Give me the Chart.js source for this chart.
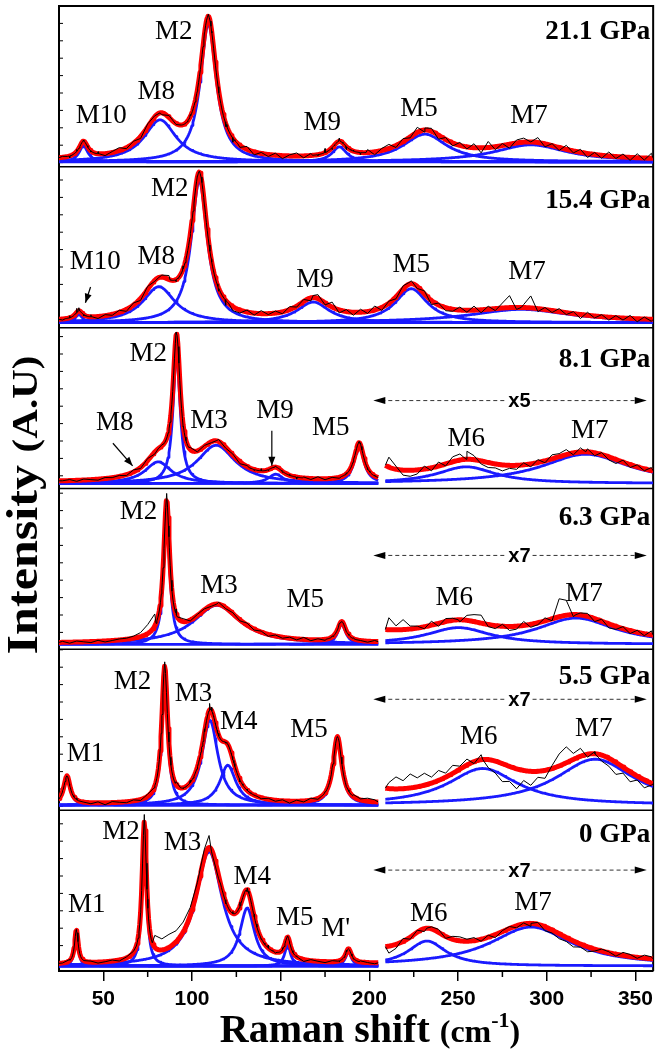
<!DOCTYPE html>
<html>
<head>
<meta charset="utf-8">
<script src="https://cdn.jsdelivr.net/npm/chart.js@4.4.1/dist/chart.umd.min.js"></script>
<style>
html,body{margin:0;padding:0;background:#fff;}
#wrap{width:659px;height:1051px;position:relative;}
canvas{display:block;}
</style>
</head>
<body>
<div id="wrap"><canvas id="c" width="659" height="1051"></canvas></div>
<script>
// ---------------- DATA ----------------
// x axis (Raman shift, cm-1)
const xRange = [25, 360];
const xTicks = [50, 100, 150, 200, 250, 300, 350];
const xMinorTicks = [75, 125, 175, 225, 275, 325];
const leftEnd = 205;     // end of the unscaled part in the lower panels
const rightStart = 209;  // start of the magnified part

const pressures = ['21.1 GPa', '15.4 GPa', '8.1 GPa', '6.3 GPa', '5.5 GPa', '0 GPa'];
const magnify = [1, 1, 5, 7, 7, 7];          // x5 / x7 factor of the right part
const baseLeft = [1, 0.5, 1, 0.5, 0.5, 0.5];  // fit baseline level (A.U.)

// fitted Lorentzian components: [mode, centre (cm-1), height (A.U.), HWHM (cm-1), measured top above fit]
const peaks211 = [['M10', 38.8, 16, 3, 1], ['M8', 82, 42, 11, 0], ['M2', 109.2, 138, 5.5, 2],
                  ['M9', 183.1, 15, 5, 2], ['M5', 231.3, 27.7, 15, 2], ['M7', 291, 17, 25, 0]];
const peaks154 = [['M10', 36.2, 8, 2.5, 3], ['M8', 81.3, 36, 11, 0], ['M2', 104.1, 142, 5.5, 1],
                  ['M9', 168.3, 20.7, 11, 2], ['M5', 223.6, 34, 11, 3], ['M7', 285.6, 13.3, 35, 0]];
const peaks81  = [['M8', 80.9, 21.7, 9, 0], ['M2', 91.3, 130, 2.4, 0], ['M3', 113.6, 38.3, 13, 0],
                  ['M9', 147.2, 9.3, 5, 1], ['M5', 194.2, 38, 3.3, 1]];
const mag81    = [['M6', 254.6, 16.7, 20, 0], ['M7', 322, 29.3, 30, 0]];          // heights as shown (x5)
const peaks63  = [['M2', 85.7, 135, 2, 6], ['M3', 114, 39, 16, 0], ['M5', 184.4, 20, 2.8, 0]];
const mag63    = [['M6', 250.2, 16.7, 22, 0], ['M7', 316.5, 26.3, 27, 0]];        // x7
const peaks55  = [['M1', 29.5, 28, 2.2, 0], ['M2', 84.6, 134, 2, 4], ['M3', 110.1, 85, 5.5, 6],
                  ['M4', 120.2, 40, 5.5, 0], ['M5', 182, 66.7, 3, 0]];
const mag55    = [['M6', 263.9, 36.7, 24, 0], ['M7', 327.2, 46, 27, 0]];          // x7
const peaks0   = [['M1', 34.8, 34, 1.2, 0], ['M2', 73.1, 137, 1.5, 7], ['M3', 109.6, 114.7, 9, 12],
                  ['M4', 131.1, 58, 5, 2], ['M5', 153.9, 21, 2, 1], ["M'", 188.2, 14, 2, 0]];
const mag0     = [['M6', 232.4, 25, 13, 0], ['M7', 291.1, 39, 28, 0]];            // x7

// measured spectrum minus fit, read every 4 cm-1 starting at 27 cm-1
const residStart = 27, residStep = 4;
const resid211 = [1,-2,2,0,-1,2,-2,1,3,-1, 2,-2,3,1,-2,2,-1,0,2,-1, 2,-1,0,-3,-4,-2,3,-3,1,-2,
  2,-3,1,3,-2,2,-1,4,-2,3, -3,1,-2,3,-3,2,4,-2,3,-1, 5,-2,3,-4,2,-3,3,-2,4,-5,
  6,-3,2,-4,3,4,-2,5,-3,2, -3,4,-2,3,-4,2,-3,4,-2,3, -3,4,-2,5];
const resid154 = [-1,2,4,-1,2,-2,1,-1,2,-2, 2,-2,3,-1,2,4,-2,3,-2,1, -2,2,-3,-5,-4,-3,2,-2,3,-1,
  2,-2,3,-1,2,-3,4,-2,5,-3, 2,-3,3,-2,4,-3,2,-2,3,2, -2,3,-4,2,-3,-2,3,-2,4,-3,
  3,-2,5,12,-2,3,12,-3,2,-2, 3,-2,2,-4,3,-2,2,-3,2,-2, 3,-3,2,-2];
const resid81 = [0,1,-1,1,0,-1,1,0,1,-1, 2,-1,2,-2,1,-2,3,-2,2,-1, 1,-1,2,-1,1,-2,1,-1,2,-1,
  1,-1,1,-2,1,-1,2,-1,1,-1, 1,-1,2,-1,1,0,10,3,-5,-6, -4,3,-3,4,-2,5,6,8,4,-3,
  -5,-4,-6,-3,-4,2,-3,3,-2,4, 3,5,-2,4,3,-3,2,-3,-4,2, -3,2,-2,3];
const resid63 = [1,-1,1,0,-1,1,-1,0,1,1, 2,4,9,12,-1,2,5,3,-1,1, 1,-1,2,-1,1,-1,2,-1,1,-2,
  1,-1,1,-1,2,-1,1,-1,1,2, -1,1,0,-1,1,0,12,4,10,3, 2,-2,4,-3,3,2,-2,5,7,8,
  -2,-3,2,-4,-3,4,-3,-2,3,-2, 18,15,-2,2,3,-3,2,-4,-3,2, -3,2,-2,4];
const resid55 = [1,-1,2,0,-1,1,-2,1,0,-1, 1,-1,2,-1,3,2,3,-1,2,-2, 4,3,2,-1,1,-2,1,0,-1,1,
  -1,1,-2,1,-1,2,-1,1,2,1, -1,2,1,3,2,0,6,12,8,14, 9,12,6,10,4,8,3,6,-2,5,
  -8,-12,-18,-15,-20,-10,-14,-6,-8,3, 12,16,6,8,-3,2,-6,-8,-12,-6, -10,-4,-8,-2];
const resid0 = [0,1,-1,0,1,-1,0,1,-1,1, 1,0,6,12,11,13,11,10,8,6, 8,-2,-3,-2,2,4,-2,2,-1,3,
  -1,2,-1,1,-2,1,0,-1,1,-1, 2,-1,1,0,-1,0,-7,-4,3,-2, 2,-3,2,3,-2,3,4,2,3,-2,
  2,-3,1,2,-2,1,-3,2,-4,-3, -5,-4,-6,-3,-5,-2,2,1,-2,3, 2,-1,3,2];

// ---------------- annotations (text placed in data coordinates) ----------------
const labels211 = [['M10',48.8,46],['M8',79.8,70],['M2',89.7,130],['M9',173.4,38.7],['M5',228,52.7],['M7',290,46]];
const labels154 = [['M10',45.5,61.3],['M8',79.8,65.7],['M2',87.5,134],['M9',169.4,43.3],['M5',223.6,58],['M7',288.9,50.7]];
const labels81  = [['M8',56.5,61],['M2',75.3,129.3],['M3',109.6,62.7],['M9',146.8,72.7],['M5',178.2,56],['M6',254.6,45],['M7',324.3,52.7]];
const labels63  = [['M2',69.8,132.3],['M3',115.2,58.3],['M5',163.9,44],['M6',247.9,46.3],['M7',321,50.7]];
const labels55  = [['M1',40,51.7],['M2',66.5,123.3],['M3',100.8,111.7],['M4',126.3,83.3],['M5',166,75],['M6',261.7,68.3],['M7',326.5,76]];
const labels0   = [['M1',40.6,60.7],['M2',59.9,134.7],['M3',94.6,123.3],['M4',134,89],['M5',157.9,48],["M'",181,36.7],['M6',233.5,52.3],['M7',292.2,63.3]];
const pressureY = [130, 122, 124, 126, 128, 131];
const magArrowY = [null, null, 83, 89, 106, 96];
const magArrowX = [202.2, 284.6, 356.4];   // left tip, text centre, right tip
const pointerArrows = [[1, 42.8, 35.7, 39.9, 20], [2, 55.4, 40.3, 66.5, 17.7], [2, 145, 52.7, 145, 17.7]];

// ---------------- build ----------------
const panels = [
  {main: peaks211, mag: [], resid: resid211, labels: labels211},
  {main: peaks154, mag: [], resid: resid154, labels: labels154},
  {main: peaks81, mag: mag81, resid: resid81, labels: labels81},
  {main: peaks63, mag: mag63, resid: resid63, labels: labels63},
  {main: peaks55, mag: mag55, resid: resid55, labels: labels55},
  {main: peaks0, mag: mag0, resid: resid0, labels: labels0}
];
const BLUE = '#1a1aff', RED = '#ff0000', BLACK = '#000000';
const lor = (x, pk) => pk[2] / (1 + ((x - pk[1]) / pk[3]) ** 2);
const sum = (list, x) => list.reduce((s, pk) => s + lor(x, pk), 0);

function samples(a, b, step, f) {
  const out = []; const n = Math.round((b - a) / step);
  for (let k = 0; k <= n; k++) { const x = a + (b - a) * k / n; out.push({x, y: f(x)}); }
  return out;
}
function measured(a, b, f, peaks, resid) {
  const pts = new Map();
  const add = (x, y) => pts.set(x.toFixed(2), {x, y});
  add(a, f(a)); add(b, f(b));
  peaks.forEach(pk => {
    if (pk[3] > 6) return;
    for (let x = pk[1] - 3 * pk[3]; x <= pk[1] + 3 * pk[3]; x += 0.5) if (x > a && x < b) add(x, f(x));
  });
  resid.forEach((r, i) => { const x = residStart + residStep * i; if (x > a && x < b) add(x, f(x) + r); });
  peaks.forEach(pk => { if (pk[1] > a && pk[1] < b) add(pk[1], f(pk[1]) + pk[4]); });
  return [...pts.values()].sort((p, q) => p.x - q.x);
}
function ds(data, yID, color, width, order) {
  return {data, yAxisID: yID, borderColor: color, borderWidth: width, pointRadius: 0, fill: false,
          order, tension: 0, borderJoinStyle: 'round', normalized: true};
}

const datasets = [];
panels.forEach((p, i) => {
  const yID = 'y' + i, fac = magnify[i], split = p.mag.length > 0;
  const lEnd = split ? leftEnd : xRange[1];
  const fLeft = x => sum(p.main, x) + sum(p.mag, x) / fac + baseLeft[i];
  const fRight = x => fac * sum(p.main, x) + sum(p.mag, x);
  p.main.forEach(pk => datasets.push(ds(samples(xRange[0], lEnd, 0.5, x => lor(x, pk)), yID, BLUE, 2.8, 3)));
  datasets.push(ds(samples(xRange[0], lEnd, 0.5, fLeft), yID, RED, 5, 2));
  datasets.push(ds(measured(xRange[0], lEnd, fLeft, p.main, p.resid), yID, BLACK, 1, 1));
  if (split) {
    p.mag.forEach(pk => datasets.push(ds(samples(rightStart, xRange[1], 0.5, x => lor(x, pk)), yID, BLUE, 2.8, 3)));
    datasets.push(ds(samples(rightStart, xRange[1], 0.5, fRight), yID, RED, 5, 2));
    datasets.push(ds(measured(rightStart, xRange[1], fRight, p.mag, p.resid), yID, BLACK, 1, 1));
  }
});

const yScales = {};
for (let i = 0; i < 6; i++) {
  yScales['y' + i] = {type: 'linear', position: 'left', display: false, min: -5, max: 156,
                      stack: 'panels', stackWeight: 1, weight: 6 - i};
}

function arrowHead(ctx, x1, y1, x2, y2, len, half) {
  const a = Math.atan2(y2 - y1, x2 - x1);
  ctx.beginPath();
  ctx.moveTo(x2, y2);
  ctx.lineTo(x2 - len * Math.cos(a) + half * Math.sin(a), y2 - len * Math.sin(a) - half * Math.cos(a));
  ctx.lineTo(x2 - len * Math.cos(a) - half * Math.sin(a), y2 - len * Math.sin(a) + half * Math.cos(a));
  ctx.closePath(); ctx.fill();
}

const frames = {
  id: 'frames',
  beforeDatasetsDraw(chart) {
    const ctx = chart.ctx, ca = chart.chartArea;
    ctx.save();
    ctx.strokeStyle = '#000';
    ctx.lineWidth = 1.5;
    for (let i = 0; i < 5; i++) {
      const ys = chart.scales['y' + i];
      ctx.beginPath(); ctx.moveTo(ca.left, ys.bottom); ctx.lineTo(ca.right, ys.bottom); ctx.stroke();
    }
    ctx.lineWidth = 2;
    ctx.beginPath();
    ctx.moveTo(ca.left, ca.bottom); ctx.lineTo(ca.left, ca.top); ctx.lineTo(ca.right, ca.top); ctx.lineTo(ca.right, ca.bottom);
    ctx.stroke();
    // inward minor ticks on the left axis
    ctx.lineWidth = 1;
    for (let y = ca.top + 17.4; y < ca.bottom - 4; y += 17.4) {
      ctx.beginPath(); ctx.moveTo(ca.left, y); ctx.lineTo(ca.left + 4, y); ctx.stroke();
    }
    // minor ticks on the x axis
    const xs = chart.scales.x;
    ctx.lineWidth = 1.5;
    xMinorTicks.forEach(v => {
      const x = xs.getPixelForValue(v);
      ctx.beginPath(); ctx.moveTo(x, ca.bottom); ctx.lineTo(x, ca.bottom + 6); ctx.stroke();
    });
    ctx.restore();
  },
  afterDatasetsDraw(chart) {
    const ctx = chart.ctx, ca = chart.chartArea, xs = chart.scales.x;
    ctx.save();
    ctx.fillStyle = '#000';
    ctx.textBaseline = 'middle';
    panels.forEach((p, i) => {
      const ys = chart.scales['y' + i];
      ctx.font = '27px "Liberation Serif"';
      ctx.textAlign = 'center';
      p.labels.forEach(l => ctx.fillText(l[0], xs.getPixelForValue(l[1]), ys.getPixelForValue(l[2])));
      ctx.font = 'bold 27px "Liberation Serif"';
      ctx.textAlign = 'right';
      ctx.fillText(pressures[i], ca.right - 3, ys.getPixelForValue(pressureY[i]));
      if (magArrowY[i] !== null) {
        const y = ys.getPixelForValue(magArrowY[i]);
        const xl = xs.getPixelForValue(magArrowX[0]), xc = xs.getPixelForValue(magArrowX[1]), xr = xs.getPixelForValue(magArrowX[2]);
        ctx.font = 'bold 20px "Liberation Sans"';
        ctx.textAlign = 'center';
        const t = 'x' + magnify[i];
        const w = ctx.measureText(t).width;
        ctx.fillText(t, xc, y + 1);
        ctx.strokeStyle = '#333'; ctx.fillStyle = '#000'; ctx.lineWidth = 1;
        ctx.setLineDash([4, 3]);
        ctx.beginPath(); ctx.moveTo(xl + 8, y); ctx.lineTo(xc - w / 2 - 3, y);
        ctx.moveTo(xc + w / 2 + 2, y); ctx.lineTo(xr - 8, y); ctx.stroke();
        ctx.setLineDash([]);
        arrowHead(ctx, xl + 12, y, xl, y, 12, 3.5);
        arrowHead(ctx, xr - 12, y, xr, y, 12, 3.5);
      }
    });
    // pointer arrows
    ctx.strokeStyle = '#000'; ctx.fillStyle = '#000'; ctx.lineWidth = 1.2;
    pointerArrows.forEach(a => {
      const ys = chart.scales['y' + a[0]];
      const x1 = xs.getPixelForValue(a[1]), y1 = ys.getPixelForValue(a[2]);
      const x2 = xs.getPixelForValue(a[3]), y2 = ys.getPixelForValue(a[4]);
      ctx.beginPath(); ctx.moveTo(x1, y1); ctx.lineTo(x2, y2); ctx.stroke();
      arrowHead(ctx, x1, y1, x2, y2, 9, 3.5);
    });
    // axis titles
    ctx.textAlign = 'left';
    ctx.textBaseline = 'alphabetic';
    const parts = [['Raman shift ', 'bold 40px "Liberation Serif"', 0], ['(cm', 'bold 32px "Liberation Serif"', 0],
                   ['-1', 'bold 22px "Liberation Serif"', -15], [')', 'bold 32px "Liberation Serif"', 0]];
    let total = 0;
    parts.forEach(pt => { ctx.font = pt[1]; pt.push(ctx.measureText(pt[0]).width); total += pt[3]; });
    let x = 370 - total / 2;
    const base = 1042;
    parts.forEach(pt => { ctx.font = pt[1]; ctx.fillText(pt[0], x, base + pt[2]); x += pt[3]; });
    ctx.save();
    ctx.translate(37, 505);
    ctx.rotate(-Math.PI / 2);
    ctx.scale(1.14, 1);
    const yp = [['Intensity ', 'bold 44px "Liberation Serif"'], ['(A.U)', 'bold 36px "Liberation Serif"']];
    let tw = 0;
    yp.forEach(pt => { ctx.font = pt[1]; pt.push(ctx.measureText(pt[0]).width); tw += pt[2]; });
    let xx = -tw / 2;
    yp.forEach(pt => { ctx.font = pt[1]; ctx.fillText(pt[0], xx, 0); xx += pt[2]; });
    ctx.restore();
    ctx.restore();
  }
};

new Chart(document.getElementById('c'), {
  type: 'line',
  data: {datasets},
  options: {
    responsive: false, animation: false, events: [], parsing: false,
    layout: {padding: {left: 59, right: 2, top: 6, bottom: 0}},
    plugins: {legend: {display: false}, tooltip: {enabled: false}},
    scales: Object.assign({
      x: {
        type: 'linear', position: 'bottom', min: xRange[0], max: xRange[1],
        afterBuildTicks: s => { s.ticks = xTicks.map(v => ({value: v})); },
        afterFit: s => { s.height = 80; },
        ticks: {font: {family: 'Liberation Sans', weight: 'bold', size: 21}, color: '#000', padding: 6, maxRotation: 0, autoSkip: false},
        grid: {drawOnChartArea: false, tickLength: 10, color: '#000', lineWidth: 1.5},
        border: {color: '#000', width: 2}
      }
    }, yScales)
  },
  plugins: [frames]
});
</script>
</body>
</html>
